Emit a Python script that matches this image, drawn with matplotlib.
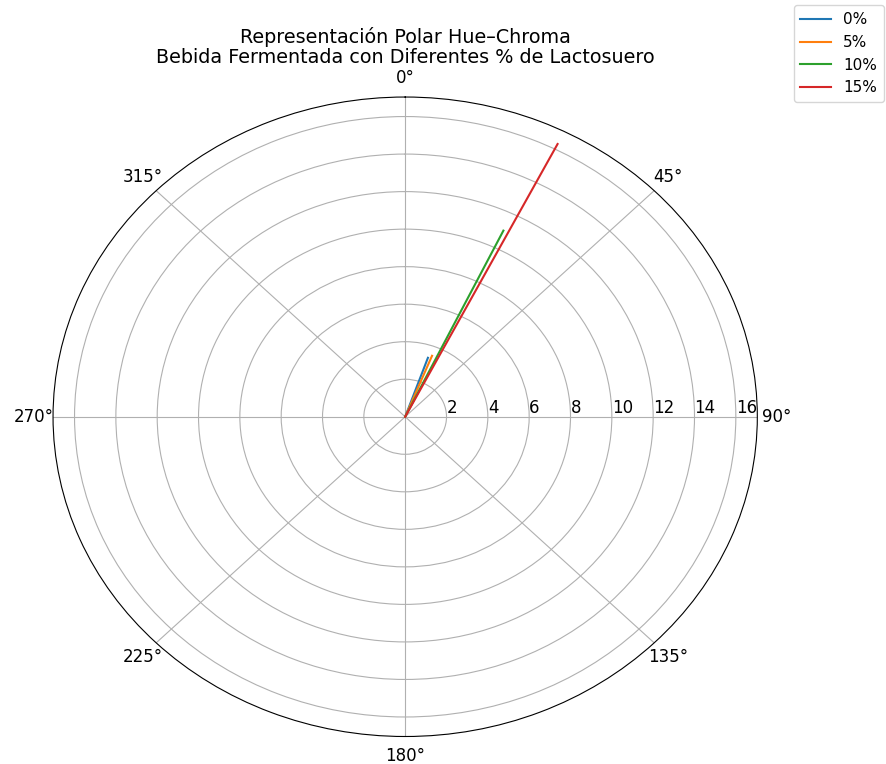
import numpy as np
import matplotlib
matplotlib.use("Agg")
import matplotlib.pyplot as plt

# Hue (deg) at the origin end and at the tip, and chroma, per % of whey
lactosuero = ["0%", "5%", "10%", "15%"]
hue_inicio = [19.0, 21.5, 27.0, 30.0]
hue_fin = [19.3, 21.8, 25.6, 26.9]
chroma = [3.33, 3.50, 11.0, 16.3]

fig = plt.figure(figsize=(8.87, 7.64), dpi=100)
ax = fig.add_axes([0.0598, 0.036, 0.794, 0.837], projection="polar")
ax.set_aspect("auto")
ax.set_theta_zero_location("N")
ax.set_theta_direction(-1)

for nombre, h0, h1, c in zip(lactosuero, hue_inicio, hue_fin, chroma):
    ax.plot(np.deg2rad([h0, h1]), [0, c], label=nombre)

ax.set_rlim(0, 17.04)
ax.set_rticks([2, 4, 6, 8, 10, 12, 14, 16])
ax.set_rlabel_position(90)
ax.tick_params(labelsize=12)
ax.set_title("Representación Polar Hue–Chroma\nBebida Fermentada con Diferentes % de Lactosuero",
             fontsize=13.8, linespacing=1.05, pad=4)

fig.legend(loc="upper right", bbox_to_anchor=(1.0, 0.997), fontsize=11,
           labelspacing=0.5, borderpad=0.45, handlelength=2.0, borderaxespad=0.2)
fig.savefig("out.png", dpi=100)
